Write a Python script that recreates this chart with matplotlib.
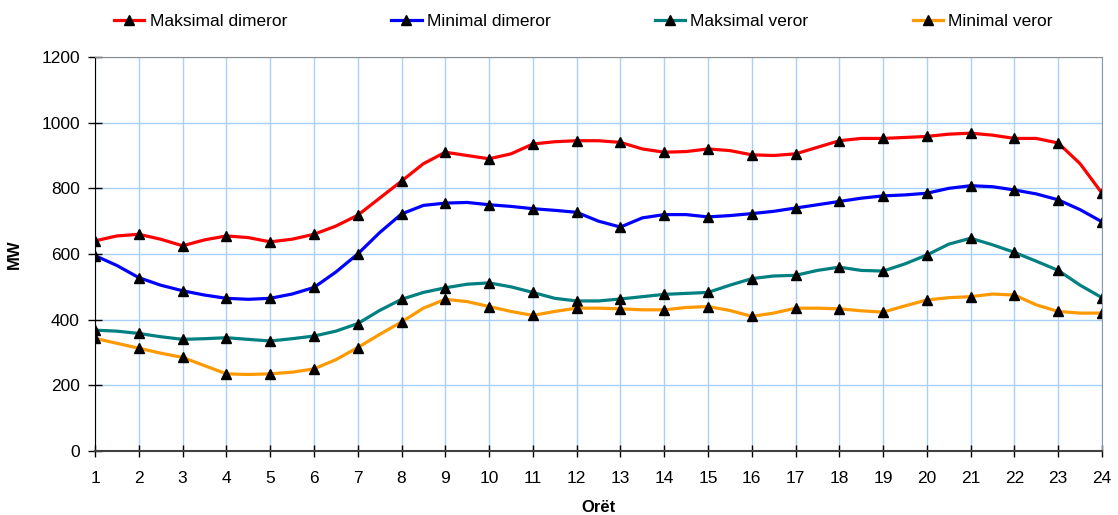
import numpy as np
import matplotlib.pyplot as plt

plt.rcParams['font.family'] = ['Liberation Sans', 'DejaVu Sans']

# half-hour readings, markers drawn on the full hours
hours = [1, 1.5, 2, 2.5, 3, 3.5, 4, 4.5, 5, 5.5, 6, 6.5, 7, 7.5, 8, 8.5, 9, 9.5,
         10, 10.5, 11, 11.5, 12, 12.5, 13, 13.5, 14, 14.5, 15, 15.5, 16, 16.5,
         17, 17.5, 18, 18.5, 19, 19.5, 20, 20.5, 21, 21.5, 22, 22.5, 23, 23.5, 24]

max_dimeror = [640, 655, 660, 645, 625, 643, 655, 650, 637, 645, 660, 685,
               718, 770, 822, 875, 910, 900, 890, 905, 935, 942, 945, 945,
               940, 920, 910, 912, 920, 915, 902, 900, 905, 925, 945, 952,
               952, 955, 958, 965, 968, 962, 952, 952, 938, 875, 785]
min_dimeror = [595, 565, 528, 505, 488, 475, 465, 462, 465, 478, 498, 545,
               600, 665, 722, 748, 755, 757, 750, 745, 738, 733, 727, 700,
               682, 710, 720, 720, 713, 717, 723, 730, 740, 750, 760, 770,
               777, 780, 785, 800, 808, 805, 795, 783, 765, 735, 698]
max_veror = [368, 365, 358, 348, 340, 342, 345, 340, 335, 342, 350, 365,
             388, 428, 462, 483, 497, 508, 512, 500, 483, 465, 457, 457,
             463, 470, 477, 480, 483, 505, 525, 533, 535, 550, 560, 550,
             548, 570, 597, 630, 648, 628, 605, 578, 550, 505, 467]
min_veror = [343, 328, 313, 298, 285, 260, 235, 233, 235, 240, 250, 278,
             315, 355, 393, 435, 462, 455, 440, 425, 413, 425, 435, 435,
             433, 430, 430, 437, 440, 428, 410, 420, 435, 435, 433, 427,
             423, 442, 460, 467, 470, 478, 475, 445, 425, 420, 420]

series = [
    ("Maksimal dimeror", max_dimeror, "#ff0000"),
    ("Minimal dimeror", min_dimeror, "#0000ff"),
    ("Maksimal veror", max_veror, "#008080"),
    ("Minimal veror", min_veror, "#ff9900"),
]

fig = plt.figure(figsize=(11.18, 5.15), dpi=100)
ax = fig.add_axes([0.085, 0.1243, 0.9007, 0.7650])

for name, vals, col in series:
    ax.plot(hours, vals, color=col, lw=2.3, marker='^', markevery=2,
            markersize=6.5, markerfacecolor='black', markeredgecolor='black',
            label=name)

ax.set_xlim(1, 24)
ax.set_ylim(0, 1200)
ax.set_xticks(range(1, 25))
ax.set_yticks(range(0, 1201, 200))
ax.grid(True, color='#a8d0f8', lw=1.0)
ax.set_axisbelow(True)
ax.tick_params(labelsize=12.5, width=1, colors='black')
ax.tick_params(axis='x', direction='inout', length=9, pad=10)
ax.tick_params(axis='y', direction='inout', length=10, pad=6)

ax.spines['left'].set_color('black')
ax.spines['bottom'].set_color('#404040')
ax.spines['bottom'].set_linewidth(1.5)
ax.spines['top'].set_color('#8a8a8a')
ax.spines['right'].set_color('#8a9aaa')

ax.set_xlabel("Orët", fontsize=12, fontweight='bold', labelpad=10)
ax.set_ylabel("MW", fontsize=12, fontweight='bold', labelpad=14)

fig.legend(loc='upper left', bbox_to_anchor=(0.088, 1.003), ncol=4,
           frameon=False, fontsize=12.5, handlelength=1.75, handletextpad=0.3,
           columnspacing=6.0)

fig.savefig("out.png", dpi=100)
